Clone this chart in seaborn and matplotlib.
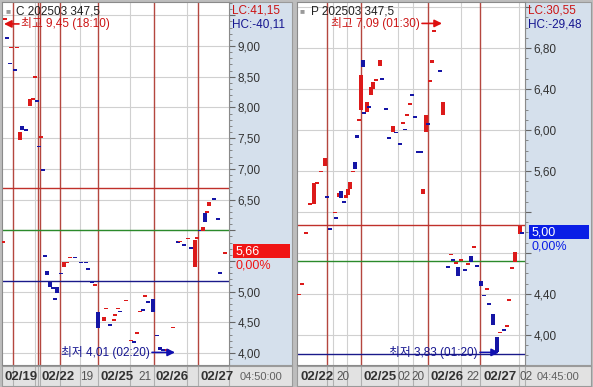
import numpy as np
import pandas as pd
import matplotlib
matplotlib.use("Agg")
import matplotlib.pyplot as plt
from matplotlib.patches import Rectangle
from matplotlib.ticker import MultipleLocator
import seaborn as sns

# ---------------- left panel : C 202503 347,5 ----------------
# bar time (chart slot), open, close
c_t = [1, 3, 5, 8, 9, 13, 15, 18, 20, 24, 28, 31, 33, 35, 37, 39, 41, 43, 45, 48,
       51, 53, 55, 59, 62, 65, 68, 73, 79, 84, 86, 90, 93, 96, 102, 104, 108, 112, 113, 116,
       118, 124, 129, 132, 135, 138, 141, 143, 146, 151, 155, 158, 161, 165, 171, 176, 178, 182, 186, 189,
       193, 195, 198, 201, 203, 205, 207, 212, 216, 218, 223]
c_open = [5.80, 9.43, 9.14, 8.72, 8.97, 8.62, 8.97, 7.47, 7.70, 7.64, 8.02, 8.13, 8.49, 8.11, 7.37, 7.51, 6.99, 5.59, 5.34, 5.16,
          5.07, 4.89, 5.07, 5.30, 5.40, 5.47, 5.55, 5.56, 5.48, 5.48, 5.38, 5.16, 5.10, 4.67, 4.52, 4.72, 4.47, 4.53, 4.61, 4.72,
          4.68, 4.85, 4.20, 4.19, 4.32, 4.67, 4.71, 4.93, 4.84, 4.88, 4.29, 4.10, 4.06, 4.05, 4.41, 5.81, 5.81, 5.77, 5.86, 5.72,
          5.40, 5.87, 6.00, 5.99, 6.28, 6.29, 6.40, 6.52, 6.19, 5.31, 5.62]
c_close = [5.81, 9.45, 9.13, 8.71, 8.98, 8.61, 8.98, 7.60, 7.63, 7.63, 8.14, 8.14, 8.50, 8.10, 7.36, 7.52, 6.98, 5.58, 5.27, 5.08,
           5.06, 4.88, 4.98, 5.29, 5.48, 5.48, 5.56, 5.55, 5.47, 5.47, 5.37, 5.15, 5.11, 4.41, 4.59, 4.73, 4.44, 4.54, 4.62, 4.73,
           4.67, 4.86, 4.21, 4.18, 4.33, 4.68, 4.70, 4.94, 4.83, 4.67, 4.28, 4.05, 4.05, 4.06, 4.42, 5.80, 5.82, 5.76, 5.87, 5.71,
           5.84, 5.88, 5.99, 6.05, 6.13, 6.30, 6.46, 6.51, 6.18, 5.30, 5.63]
c_levels = [6.69, 6.00, 5.17]          # red / green / navy reference lines
c_last = 5.66
c_lc, c_hc = "LC:41,15", "HC:-40,11"
c_hi, c_hi_time = 9.45, "18:10"
c_lo, c_lo_time = 4.01, "02:20"
c_red_v = [10.7, 35.7, 38, 58, 96, 152, 196]
c_gray_v = [33, 78, 128, 185]
c_date_pos = [19, 56, 85, 115, 143, 170, 215]
c_date_txt = ["02/19", "02/22", "19", "02/25", "21", "02/26", "02/27"]

# ---------------- right panel : P 202503 347,5 ----------------
p_t = [2, 5, 9, 13, 17, 20, 24, 28, 30, 33, 38, 39, 42, 44, 47, 49, 51, 53, 56, 58,
       60, 62, 64, 66, 67, 70, 72, 74, 76, 79, 83, 85, 89, 92, 96, 99, 103, 106, 108, 110,
       113, 115, 118, 121, 124, 126, 129, 131, 133, 135, 137, 143, 146, 151, 154, 156, 159, 161, 164, 168,
       171, 174, 177, 180, 184, 187, 190, 192, 196, 200, 203, 207, 210, 212, 215, 218, 223, 225]
p_open = [4.39, 4.49, 4.99, 5.27, 5.28, 5.48, 5.59, 5.65, 5.35, 5.04, 5.19, 5.15, 5.35, 5.40, 5.30, 5.34, 5.37, 5.42, 5.59, 5.69,
          5.95, 6.09, 6.20, 6.68, 6.17, 6.18, 6.23, 6.34, 6.40, 6.48, 6.62, 6.50, 6.21, 5.93, 5.98, 5.98, 5.87, 6.06, 6.01, 6.14,
          6.25, 6.35, 6.13, 5.79, 5.79, 5.38, 5.98, 6.06, 6.47, 6.65, 6.96, 6.58, 6.15, 4.67, 4.78, 4.74, 4.70, 4.66, 4.73, 4.64,
          4.69, 4.77, 4.85, 4.68, 4.53, 4.39, 4.44, 4.31, 4.20, 3.98, 4.02, 4.05, 4.08, 4.34, 4.65, 4.71, 4.99, 5.00]
p_close = [4.40, 4.50, 5.00, 5.28, 5.48, 5.49, 5.60, 5.73, 5.34, 5.03, 5.20, 5.14, 5.39, 5.34, 5.29, 5.37, 5.42, 5.49, 5.60, 5.62,
           5.92, 6.10, 6.54, 6.61, 6.16, 6.27, 6.22, 6.42, 6.47, 6.49, 6.68, 6.49, 6.20, 5.92, 6.04, 5.97, 5.86, 6.07, 6.00, 6.15,
           6.26, 6.34, 6.12, 5.78, 5.78, 5.42, 6.15, 6.05, 6.48, 6.68, 6.97, 6.57, 6.27, 4.66, 4.79, 4.73, 4.71, 4.58, 4.74, 4.63,
           4.70, 4.71, 4.86, 4.67, 4.48, 4.38, 4.45, 4.30, 4.10, 3.83, 4.03, 4.04, 4.09, 4.35, 4.66, 4.81, 5.06, 4.99]
p_levels = [5.07, 4.72, 3.81]
p_last = 5.00
p_lc, p_hc = "LC:30,55", "HC:-29,48"
p_hi, p_hi_time = 7.09, "01:30"
p_lo, p_lo_time = 3.83, "01:20"
p_red_v = [30, 64, 131, 183]
p_gray_v = [36, 50, 101, 116, 164, 222]
p_date_pos = [20, 46, 83, 107, 121, 150, 176, 203, 229]
p_date_txt = ["02/22", "20", "02/25", "02", "20", "02/26", "22", "02/27", "02"]

RED = "#dc1a1a"
NAVY = "#1515a5"
LINE_RED = "#b4473f"
LEVEL_COLORS = ["#c0302a", "#2b8a2b", "#1a1a8a"]
GRID = "#d0d0d0"
STRIP = "#d5e0ec"
TXT = "#333333"

sns.set_style("white")
plt.rcParams["font.family"] = ["Liberation Sans", "Noto Sans CJK KR"]

W, H = 593, 387
fig = plt.figure(figsize=(W / 100, H / 100), dpi=100, facecolor="#bdbdbd")


def box(x0, y0, x1, y1):
    return [x0 / W, 1 - y1 / H, (x1 - x0) / W, (y1 - y0) / H]


def fmt(v):
    return f"{v:.2f}".replace(".", ",")


def draw_panel(x0, x1, x2, ylim, yticks, title, t, o, c, levels, red_v, gray_v,
               lc, hc, last, last_col, hi, hi_time, hi_pos, lo, lo_time, lo_pos,
               date_pos, date_txt, clock):
    pw = x1 - x0
    ax = fig.add_axes(box(x0, 2, x1, 365))
    ax.set_xlim(0, pw)
    ax.set_ylim(*ylim)
    ax.set_facecolor("white")
    per_px = (ylim[1] - ylim[0]) / 363

    # strip behind the price scale
    fig.add_artist(Rectangle((x1 / W, 1 - 365 / H), (x2 - x1) / W, 363 / H,
                             transform=fig.transFigure, facecolor=STRIP,
                             edgecolor="#9a9a9a", lw=0.8, zorder=-1))

    for y in yticks:
        ax.axhline(y, color=GRID, lw=0.8, zorder=1)
    for v in gray_v:
        ax.axvline(v, color=GRID, lw=0.8, zorder=1)
    for v in red_v:
        ax.axvline(v, color=LINE_RED, lw=1, zorder=2)
    for lv, col in zip(levels, LEVEL_COLORS):
        ax.axhline(lv, color=col, lw=1, zorder=2)

    # candles
    df = pd.DataFrame({"t": t, "open": o, "close": c})
    lo_b = df[["open", "close"]].min(axis=1)
    hi_b = df[["open", "close"]].max(axis=1)
    h = (hi_b - lo_b).clip(lower=1.8 * per_px)
    mid = (hi_b + lo_b) / 2
    cols = np.where(df["close"] >= df["open"], RED, NAVY)
    ax.bar(df["t"], h, bottom=mid - h / 2, width=3.6, color=cols, linewidth=0, zorder=3)

    # price scale: labels covered by the LC/HC block or the price tag stay blank
    labels = []
    for v in yticks:
        covered = v > ylim[1] - 30 * per_px or abs(v - last) < 22 * per_px
        labels.append("" if covered else fmt(v))
    ax.yaxis.tick_right()
    ax.set_yticks(yticks)
    ax.set_yticklabels(labels)
    ax.yaxis.set_minor_locator(MultipleLocator(0.1))
    ax.tick_params(axis="y", which="major", length=4, width=0.8, color="#666666",
                   pad=2, labelsize=8.5, labelcolor=TXT)
    ax.tick_params(axis="y", which="minor", length=2, width=0.6, color="#777777")
    ax.set_xticks([])
    for s in ax.spines.values():
        s.set_color("#8a8a8a")
        s.set_linewidth(0.8)

    ytr = ax.get_yaxis_transform()
    # last price tag
    ax.add_patch(Rectangle((1 + 4 / pw, last - 7 * per_px), (x2 - x1 - 6) / pw, 14 * per_px,
                           transform=ytr, facecolor=last_col, edgecolor="none",
                           clip_on=False, zorder=6))
    ax.text(1 + 7 / pw, last, fmt(last), transform=ytr, color="white", fontsize=9,
            ha="left", va="center", clip_on=False, zorder=7)
    ax.text(1 + 7 / pw, last - 14 * per_px, "0,00%", transform=ytr, color=last_col,
            fontsize=9, ha="left", va="center", clip_on=False, zorder=7)

    # LC / HC
    ax.text(1 + 3 / pw, ylim[1] - 8 * per_px, lc, transform=ytr, color="#cc1414",
            fontsize=8.5, ha="left", va="center", clip_on=False, zorder=7)
    ax.text(1 + 3 / pw, ylim[1] - 22 * per_px, hc, transform=ytr, color="#151590",
            fontsize=8.5, ha="left", va="center", clip_on=False, zorder=7)

    # title
    ax.annotate("■", xy=(0, 1), xycoords="axes fraction", xytext=(3, -10),
                textcoords="offset pixels", va="center", fontsize=6, color="#9a9a9a")
    ax.annotate(title, xy=(0, 1), xycoords="axes fraction", xytext=(14, -10),
                textcoords="offset pixels", va="center", fontsize=8.5, color="#222222")

    # highest / lowest markers
    hx_txt, hx_a0, hx_a1, hy = hi_pos
    ax.text(hx_txt, hy, f"최고 {fmt(hi)} ({hi_time})", color="#cc1414", fontsize=8.5,
            ha="left" if hx_a1 < hx_txt else "right", va="center", zorder=5)
    ax.annotate("", xy=(hx_a1, hy), xytext=(hx_a0, hy),
                arrowprops=dict(arrowstyle="-|>", color="#dd1010", lw=1.2, mutation_scale=11,
                                shrinkA=0, shrinkB=0), zorder=5)
    lx_txt, lx_a0, lx_a1, ly = lo_pos
    ax.text(lx_txt, ly, f"최저 {fmt(lo)} ({lo_time})", color="#151590", fontsize=8.5,
            ha="right", va="center", zorder=5)
    ax.annotate("", xy=(lx_a1, ly), xytext=(lx_a0, ly),
                arrowprops=dict(arrowstyle="-|>", color="#1010b0", lw=1.2, mutation_scale=11,
                                shrinkA=0, shrinkB=0), zorder=5)

    # time strip
    axb = fig.add_axes(box(x0, 366, x2, 386))
    axb.set_xlim(0, x2 - x0)
    axb.set_ylim(0, 1)
    axb.set_facecolor("#e2e2e2")
    axb.set_xticks([])
    axb.set_yticks([])
    for s in axb.spines.values():
        s.set_color("#9a9a9a")
        s.set_linewidth(0.8)
    for v in red_v + gray_v + [pw]:
        axb.axvline(v, color="#b0b0b0", lw=0.8)
    clip = Rectangle((0, 0), pw, 1, transform=axb.transData)
    for pos, lab in zip(date_pos, date_txt):
        bold = "/" in lab
        tx = axb.text(pos, 0.47, lab, ha="center", va="center",
                      fontsize=9.5 if bold else 8.5, fontweight="bold" if bold else "normal",
                      color="#333333" if bold else "#555555")
        tx.set_clip_path(clip)
    axb.text(pw + (x2 - x1) / 2, 0.47, clock, ha="center", va="center",
             fontsize=8, color="#606060")
    return ax


draw_panel(2, 229, 292, (3.805, 9.717), np.arange(4.0, 9.51, 0.5), "C 202503 347,5",
           c_t, c_open, c_close, c_levels, c_red_v, c_gray_v, c_lc, c_hc, c_last, "#f01515",
           c_hi, c_hi_time, (19, 17, 2, 9.36), c_lo, c_lo_time, (148, 150, 173, c_lo),
           c_date_pos, c_date_txt, "04:50:00")

draw_panel(297, 525, 591, (3.707, 7.249), np.arange(4.0, 7.21, 0.4), "P 202503 347,5",
           p_t, p_open, p_close, p_levels, p_red_v, p_gray_v, p_lc, p_hc, p_last, "#0a1ee6",
           p_hi, p_hi_time, (123, 125, 145, 7.04), p_lo, p_lo_time, (181, 183, 202, p_lo),
           p_date_pos, p_date_txt, "04:45:00")

fig.savefig("out.png", dpi=100)
